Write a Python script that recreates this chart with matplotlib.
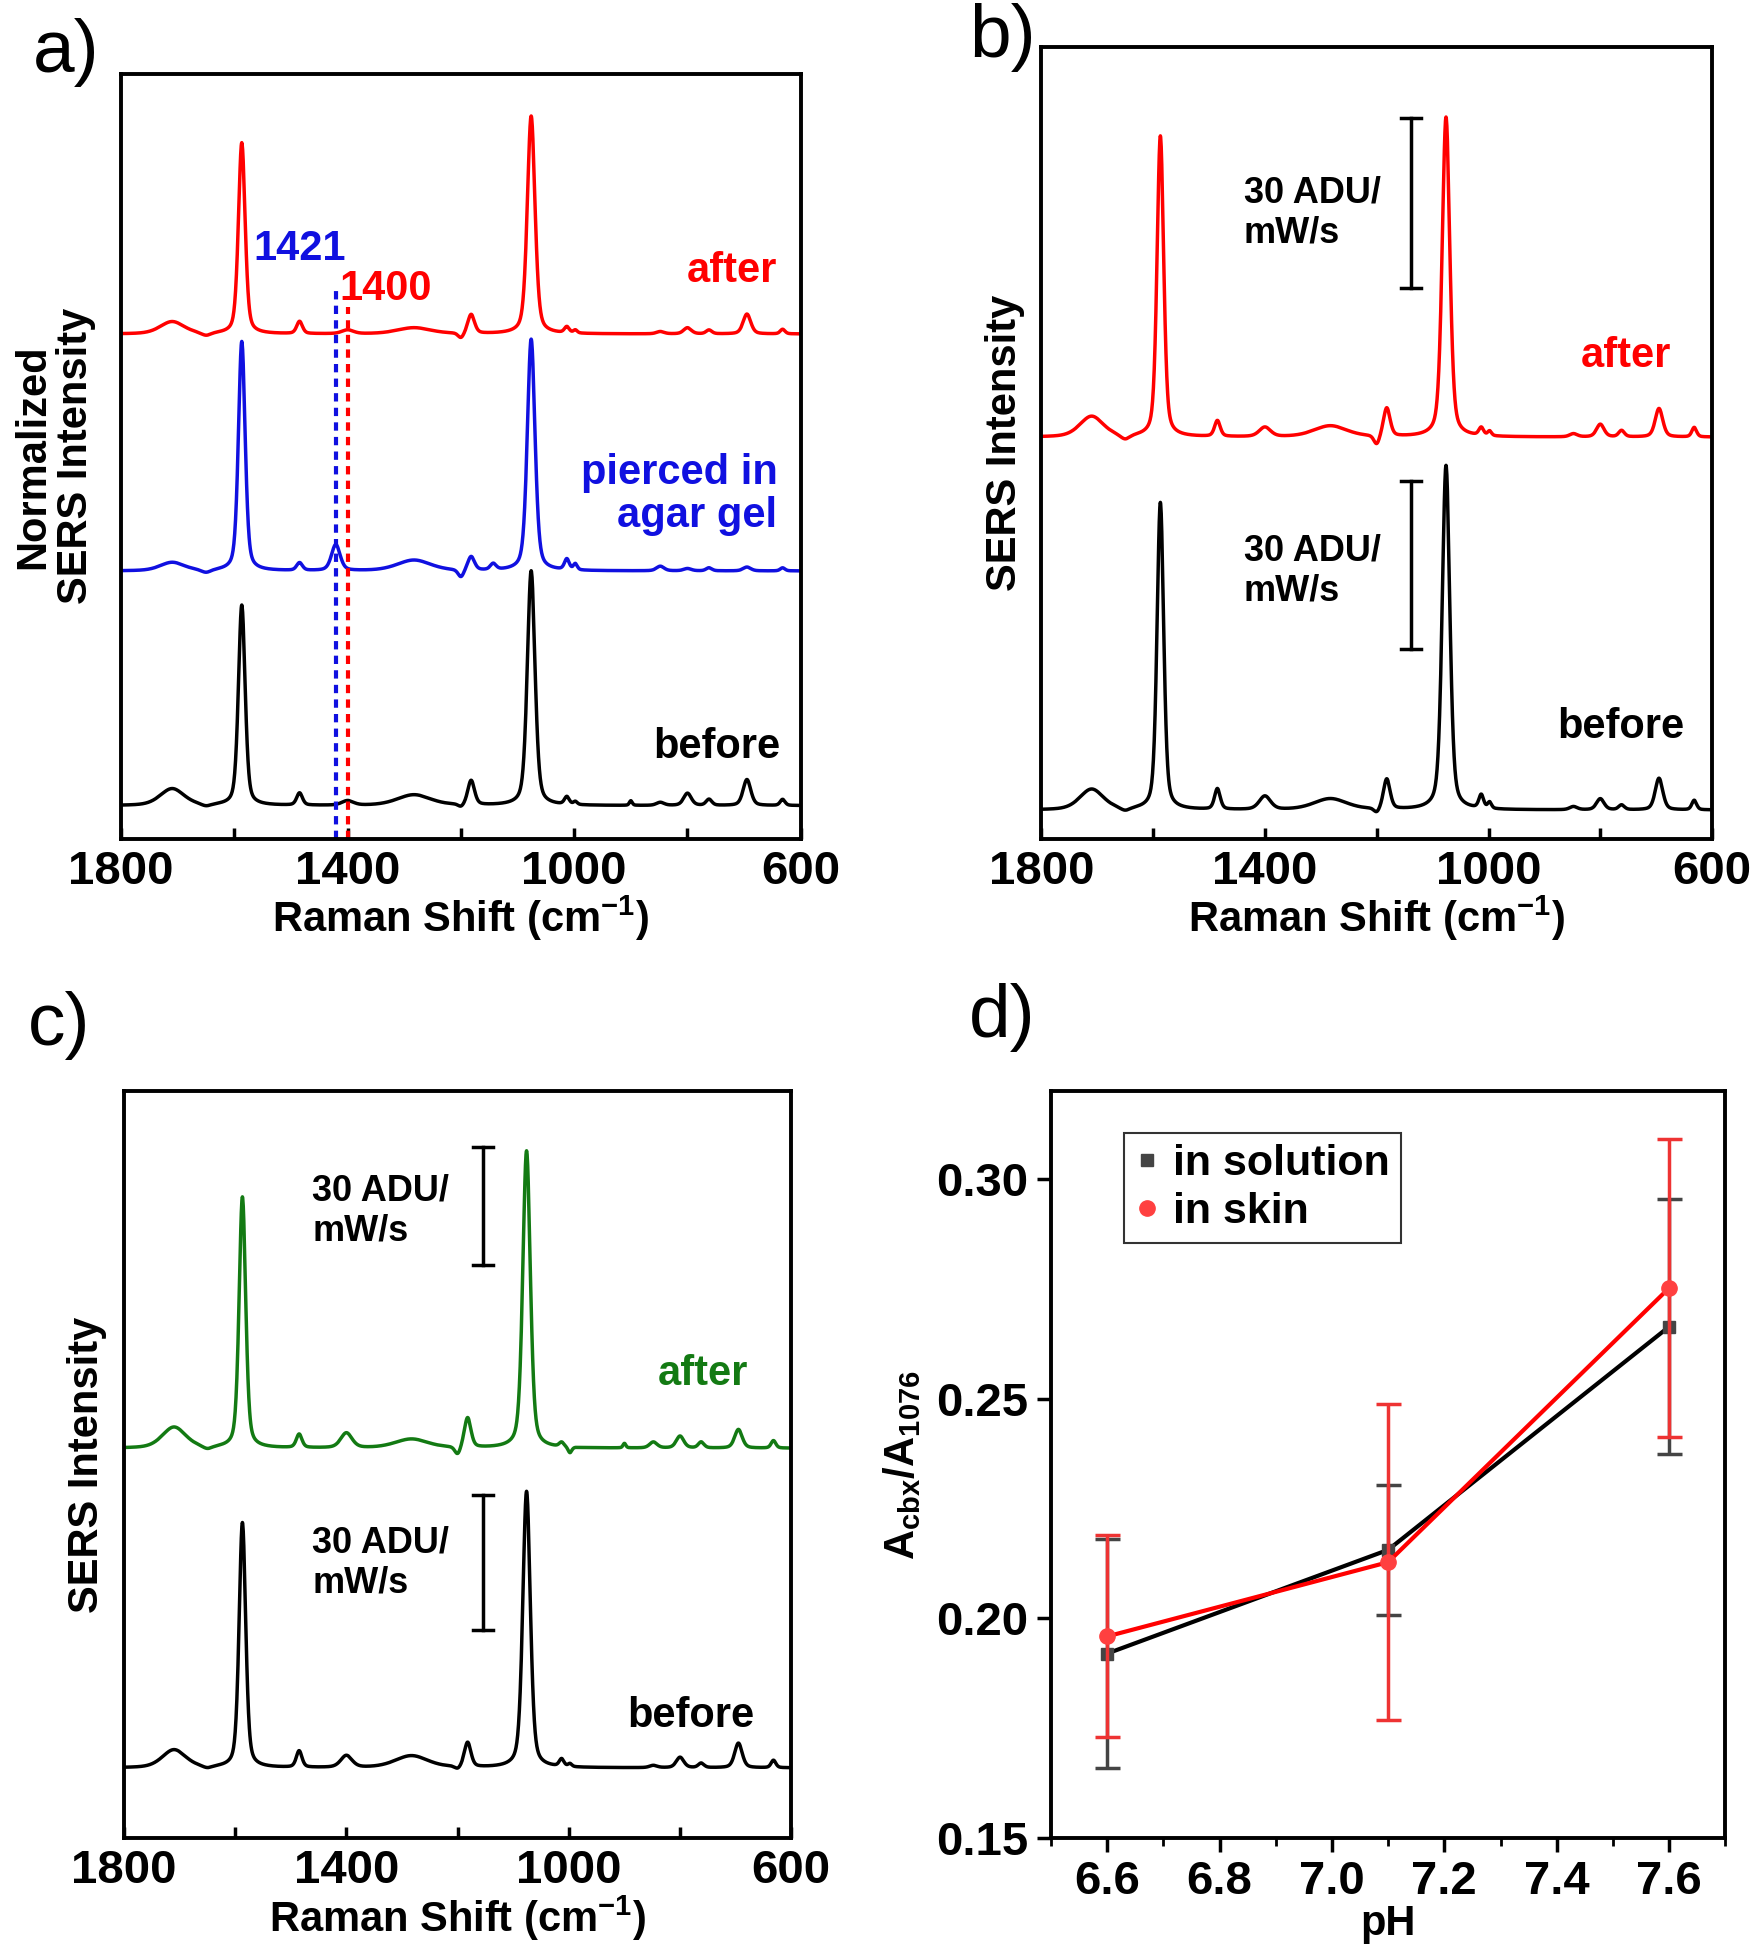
import numpy as np
import matplotlib
matplotlib.use('Agg')
import matplotlib.pyplot as plt
from matplotlib.lines import Line2D

plt.rcParams['font.family'] = ['Liberation Sans', 'DejaVu Sans']
plt.rcParams['font.weight'] = 'bold'
plt.rcParams['mathtext.fontset'] = 'custom'
plt.rcParams['mathtext.rm'] = 'Liberation Sans:bold'
plt.rcParams['mathtext.it'] = 'Liberation Sans:bold'
plt.rcParams['mathtext.bf'] = 'Liberation Sans:bold'

# Raman bands (cm-1) and half widths used for every spectrum
PEAK_POS = [1710, 1650, 1587, 1485, 1421, 1400, 1283, 1200, 1182, 1143,
            1076, 1013, 998, 900, 848, 800, 762, 695, 632]
PEAK_WID = [25, 10, 7, 6, 9, 12, 35, 6, 7, 6, 8, 5, 4, 3, 8, 8, 6, 8, 5]

# panel a (normalized, offset)
A_AFTER_BASE = 0.660
A_AFTER = [0.016, -0.004, 0.250, 0.016, 0, 0.005, 0.008, -0.007, 0.025, 0,
           0.285, 0.008, 0.004, 0, 0.003, 0.008, 0.005, 0.026, 0.006]
A_PIERCED_BASE = 0.350
A_PIERCED = [0.011, -0.004, 0.300, 0.010, 0.034, 0, 0.014, -0.010, 0.018, 0.008,
             0.303, 0.014, 0.008, 0, 0.006, 0.003, 0.004, 0.005, 0.004]
A_BEFORE_BASE = 0.043
A_BEFORE = [0.022, -0.003, 0.262, 0.016, 0, 0.006, 0.014, -0.004, 0.032, 0,
            0.307, 0.010, 0.004, 0.006, 0.004, 0.016, 0.008, 0.034, 0.008]

# panel b
B_AFTER_BASE = 0.507
B_AFTER = [0.026, -0.006, 0.380, 0.020, 0, 0.012, 0.014, -0.012, 0.036, 0,
           0.404, 0.010, 0.006, 0, 0.004, 0.016, 0.008, 0.036, 0.012]
B_BEFORE_BASE = 0.036
B_BEFORE = [0.026, -0.004, 0.388, 0.026, 0, 0.017, 0.014, -0.006, 0.038, 0,
            0.435, 0.017, 0.008, 0, 0.004, 0.014, 0.006, 0.040, 0.012]

# panel c
C_AFTER_BASE = 0.522
C_AFTER = [0.028, -0.004, 0.336, 0.018, 0, 0.020, 0.012, -0.011, 0.040, 0,
           0.398, 0.006, -0.008, 0.006, 0.008, 0.016, 0.008, 0.025, 0.010]
C_BEFORE_BASE = 0.094
C_BEFORE = [0.024, -0.003, 0.328, 0.022, 0, 0.016, 0.016, -0.004, 0.033, 0,
            0.370, 0.010, 0.004, 0, 0.003, 0.014, 0.006, 0.033, 0.010]

# panel d
PH = [6.6, 7.1, 7.6]
SOLUTION = [0.192, 0.2156, 0.2664]
SOLUTION_ERR = [0.026, 0.0148, 0.029]
SKIN = [0.1959, 0.2128, 0.2752]
SKIN_ERR = [0.023, 0.036, 0.034]

# scale bars (x position, bottom, top) in panel units
B_BARS = [(1138, 0.695, 0.910), (1138, 0.239, 0.451)]
C_BARS = [(1155, 0.767, 0.925), (1155, 0.278, 0.459)]

GREEN = '#137a13'
FS = 30
TFS = 34


def spectrum(base, heights):
    # pseudo-Voigt band shapes
    x = np.linspace(600, 1800, 2401)
    y = np.full_like(x, base)
    for x0, w, h in zip(PEAK_POS, PEAK_WID, heights):
        lor = w ** 2 / ((x - x0) ** 2 + w ** 2)
        gau = np.exp(-np.log(2) * ((x - x0) / w) ** 2)
        y += h * (0.4 * lor + 0.6 * gau)
    return x, y


def raman_axes(ax):
    ax.set_xlim(1800, 600)
    ax.set_ylim(0, 1)
    ax.set_xticks([1800, 1400, 1000, 600])
    ax.set_xticks([1600, 1200, 800], minor=True)
    ax.set_yticks([])
    ax.tick_params(axis='x', which='both', direction='in', length=8, width=2.5,
                   labelsize=TFS, pad=8, top=False)
    for lab in ax.get_xticklabels():
        lab.set_fontweight('bold')
    for sp in ax.spines.values():
        sp.set_linewidth(2.8)
    ax.set_xlabel('Raman Shift (cm$^{-1}$)', fontsize=FS, fontweight='bold', labelpad=0)


def scale_bar(ax, xb, y0, y1):
    ax.plot([xb, xb], [y0, y1], color='black', lw=2.5)
    ax.plot([xb - 18, xb + 18], [y0, y0], color='black', lw=2.5)
    ax.plot([xb - 18, xb + 18], [y1, y1], color='black', lw=2.5)


fig = plt.figure(figsize=(17.56, 19.5), dpi=100)

# ---------- a ----------
ax = fig.add_axes([0.069, 0.570, 0.387, 0.392])
for base, h, c in [(A_AFTER_BASE, A_AFTER, 'red'), (A_PIERCED_BASE, A_PIERCED, '#1010e0'),
                   (A_BEFORE_BASE, A_BEFORE, 'black')]:
    x, y = spectrum(base, h)
    ax.plot(x, y, color=c, lw=2.5)
ax.plot([1421, 1421], [0, 0.723], color='#1010e0', lw=3, ls=(0, (2, 1.5)))
ax.plot([1400, 1400], [0, 0.695], color='red', lw=3, ls=(0, (2, 1.5)))
ax.text(1484, 0.771, '1421', color='#1010e0', fontsize=FS, fontweight='bold', ha='center', va='center')
ax.text(1333, 0.719, '1400', color='red', fontsize=FS, fontweight='bold', ha='center', va='center')
ax.text(641, 0.743, 'after', color='red', fontsize=FS, fontweight='bold', ha='right', va='center')
ax.text(641, 0.45, 'pierced in\nagar gel', color='#1010e0', fontsize=FS, fontweight='bold',
        ha='right', va='center', linespacing=1.1)
ax.text(636, 0.12, 'before', color='black', fontsize=FS, fontweight='bold', ha='right', va='center')
raman_axes(ax)
ax.set_ylabel('Normalized\nSERS Intensity', fontsize=FS, fontweight='bold', labelpad=18, linespacing=1.1)
fig.text(0.019, 0.973, 'a)', fontsize=54, fontweight='normal', va='center')

# ---------- b ----------
ax = fig.add_axes([0.593, 0.570, 0.382, 0.406])
for base, h, c in [(B_AFTER_BASE, B_AFTER, 'red'), (B_BEFORE_BASE, B_BEFORE, 'black')]:
    x, y = spectrum(base, h)
    ax.plot(x, y, color=c, lw=2.5)
for xb, y0, y1 in B_BARS:
    scale_bar(ax, xb, y0, y1)
ax.text(1438, 0.79, '30 ADU/\nmW/s', fontsize=26, fontweight='bold', ha='left', va='center', linespacing=1.2)
ax.text(1438, 0.338, '30 ADU/\nmW/s', fontsize=26, fontweight='bold', ha='left', va='center', linespacing=1.2)
ax.text(673, 0.609, 'after', color='red', fontsize=FS, fontweight='bold', ha='right', va='center')
ax.text(650, 0.141, 'before', color='black', fontsize=FS, fontweight='bold', ha='right', va='center')
raman_axes(ax)
ax.set_ylabel('SERS Intensity', fontsize=FS, fontweight='bold', labelpad=12)
fig.text(0.552, 0.981, 'b)', fontsize=54, fontweight='normal', va='center')

# ---------- c ----------
ax = fig.add_axes([0.0706, 0.0574, 0.380, 0.383])
for base, h, c in [(C_AFTER_BASE, C_AFTER, GREEN), (C_BEFORE_BASE, C_BEFORE, 'black')]:
    x, y = spectrum(base, h)
    ax.plot(x, y, color=c, lw=2.5)
for xb, y0, y1 in C_BARS:
    scale_bar(ax, xb, y0, y1)
ax.text(1461, 0.840, '30 ADU/\nmW/s', fontsize=26, fontweight='bold', ha='left', va='center', linespacing=1.2)
ax.text(1461, 0.368, '30 ADU/\nmW/s', fontsize=26, fontweight='bold', ha='left', va='center', linespacing=1.2)
ax.text(678, 0.622, 'after', color=GREEN, fontsize=FS, fontweight='bold', ha='right', va='center')
ax.text(666, 0.163, 'before', color='black', fontsize=FS, fontweight='bold', ha='right', va='center')
raman_axes(ax)
ax.set_ylabel('SERS Intensity', fontsize=FS, fontweight='bold', labelpad=12)
fig.text(0.016, 0.474, 'c)', fontsize=54, fontweight='normal', va='center')

# ---------- d ----------
ax = fig.add_axes([0.5985, 0.0574, 0.384, 0.383])
ax.errorbar(PH, SOLUTION, yerr=SOLUTION_ERR, color='black', lw=3, ecolor='#444444',
            elinewidth=2.5, capsize=9, capthick=2.5, marker='s', ms=9,
            mfc='#444444', mec='#444444', zorder=3)
ax.errorbar(PH, SKIN, yerr=SKIN_ERR, color='red', lw=3, ecolor='#ee3333',
            elinewidth=2.5, capsize=9, capthick=2.5, marker='o', ms=11,
            mfc='#ff4040', mec='#ff4040', zorder=4)
ax.set_xlim(6.5, 7.7)
ax.set_ylim(0.15, 0.32)
ax.set_xticks([6.6, 6.8, 7.0, 7.2, 7.4, 7.6])
ax.set_xticks(np.arange(6.5, 7.71, 0.1), minor=True)
ax.set_yticks([0.15, 0.20, 0.25, 0.30])
ax.set_xticklabels(['6.6', '6.8', '7.0', '7.2', '7.4', '7.6'])
ax.set_yticklabels(['0.15', '0.20', '0.25', '0.30'])
ax.tick_params(which='major', direction='out', length=10, width=2.5, labelsize=TFS, pad=6)
ax.tick_params(which='minor', direction='out', length=6, width=2)
for sp in ax.spines.values():
    sp.set_linewidth(2.8)
ax.set_xlabel('pH', fontsize=FS, fontweight='bold', labelpad=0)
ax.set_ylabel(r'$\mathrm{A_{cbx}/A_{1076}}$', fontsize=FS, labelpad=10)
handles = [Line2D([], [], ls='none', marker='s', ms=9, color='#444444'),
           Line2D([], [], ls='none', marker='o', ms=11, color='#ff4040')]
leg = ax.legend(handles, ['in solution', 'in skin'], loc='upper left',
                bbox_to_anchor=(0.076, 0.973), fontsize=31, frameon=True, fancybox=False,
                handlelength=0.6, handletextpad=0.3, borderpad=0.25, labelspacing=0.2)
leg.get_frame().set_edgecolor('black')
leg.get_frame().set_linewidth(1.5)
for t in leg.get_texts():
    t.set_fontweight('bold')
fig.text(0.552, 0.478, 'd)', fontsize=54, fontweight='normal', va='center')

fig.savefig('out.png', dpi=100)
